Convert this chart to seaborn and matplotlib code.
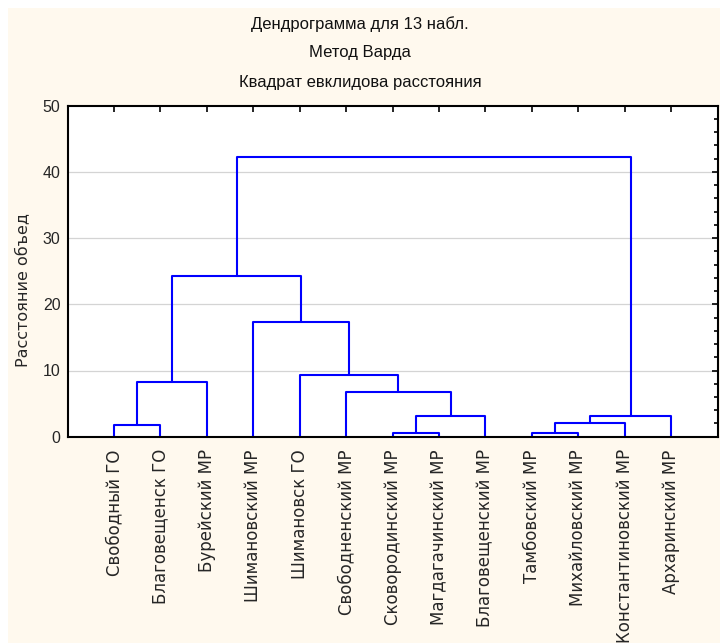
import pandas as pd
import seaborn as sns
import matplotlib.pyplot as plt
from matplotlib.patches import Rectangle
from matplotlib.ticker import MultipleLocator

# Названия наблюдений (в порядке листьев дендрограммы)
labels = ["Свободный ГО", "Благовещенск ГО", "Бурейский МР", "Шимановский МР",
          "Шимановск ГО", "Свободненский МР", "Сковородинский МР", "Магдагачинский МР",
          "Благовещенский МР", "Тамбовский МР", "Михайловский МР",
          "Константиновский МР", "Архаринский МР"]

# Объединения: левый узел, правый узел, расстояние (новые кластеры нумеруются с 13)
merge_left = [6, 9, 0, 14, 13, 16, 5, 15, 4, 3, 20, 23]
merge_right = [7, 10, 1, 11, 8, 12, 17, 2, 19, 21, 22, 18]
merge_height = [0.55, 0.55, 1.75, 2.05, 3.1, 3.15, 6.7, 8.3, 9.35, 17.4, 24.2, 42.3]

titles = ["Дендрограмма для 13 набл.", "Метод Варда", "Квадрат евклидова расстояния"]

# Положение и высота каждого узла
pos = {i: i + 1 for i in range(len(labels))}
hgt = {i: 0.0 for i in range(len(labels))}
rows = []
for k, (a, b, h) in enumerate(zip(merge_left, merge_right, merge_height)):
    node = len(labels) + k
    pts = [(pos[a], hgt[a]), (pos[a], h), (pos[b], h), (pos[b], hgt[b])]
    for j, (x, y) in enumerate(pts):
        rows.append({"id": k, "order": j, "x": x, "y": y})
    pos[node] = (pos[a] + pos[b]) / 2
    hgt[node] = h
segs = pd.DataFrame(rows)

sns.set_style("white")
plt.rcParams["font.family"] = ["Liberation Sans", "DejaVu Sans"]

fig = plt.figure(figsize=(7.2, 6.43), dpi=100)
fig.patch.set_facecolor("white")
fig.patches.append(Rectangle((8 / 720, 0), 1, 1 - 8 / 643, transform=fig.transFigure,
                             facecolor="#FFF9EE", edgecolor="none", zorder=-10))

ax = fig.add_axes([67.5 / 720, 206.3 / 643, 650.2 / 720, 331 / 643])
ax.set_facecolor("white")

for y in [10, 20, 30, 40]:
    ax.axhline(y, color="#D4D4D4", lw=0.9, zorder=0)

sns.lineplot(data=segs, x="x", y="y", units="id", estimator=None, sort=False,
             color="#0000FF", lw=1.5, ax=ax, legend=False)

ax.set_xlim(0, 14)
ax.set_ylim(0, 50)
ax.set_xticks(range(1, len(labels) + 1))
ax.set_xticklabels(labels, rotation=90, fontsize=12, family=["DejaVu Sans"])
ax.yaxis.set_major_locator(MultipleLocator(10))
ax.yaxis.set_minor_locator(MultipleLocator(2))
ax.tick_params(axis="both", which="both", direction="in", top=True, right=True,
               color="black", width=1.2)
ax.tick_params(axis="x", which="major", length=4, pad=9)
ax.tick_params(axis="y", which="major", length=4, pad=5, labelsize=11.5)
ax.tick_params(axis="y", which="minor", length=3)
ax.set_xlabel("")
ax.set_ylabel("Расстояние объед", fontsize=11.5, family=["DejaVu Sans"])
ax.yaxis.set_label_coords(-0.057, 0.443)
for s in ax.spines.values():
    s.set_color("black")
    s.set_linewidth(1.5)

for t, yy in zip(titles, [0.962, 0.918, 0.872]):
    fig.text(0.5, yy, t, ha="center", va="center", fontsize=12,
             family=["Liberation Sans Narrow", "Liberation Sans"], color="#111111")

fig.savefig("out.png", dpi=100, facecolor=fig.get_facecolor())
